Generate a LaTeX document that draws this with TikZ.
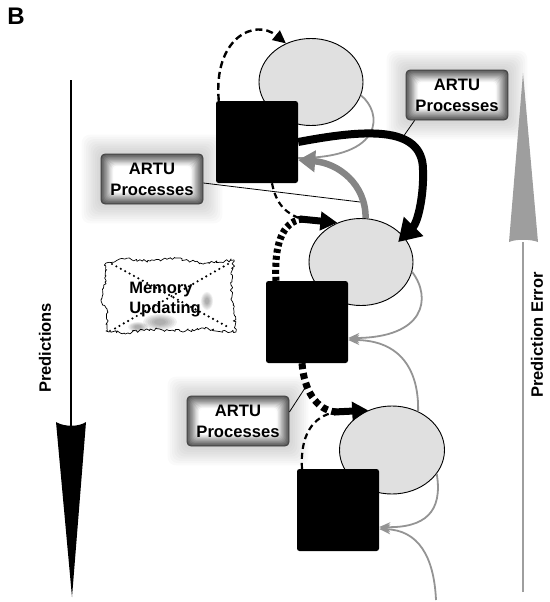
\documentclass[tikz,border=0pt]{standalone}
\usepackage{fontspec}
\setmainfont{Liberation Sans}
\usetikzlibrary{arrows.meta,shapes.geometric,decorations.pathmorphing,calc}
\definecolor{ellfill}{gray}{0.88}
\definecolor{thickgray}{gray}{0.52}
\definecolor{thingray}{gray}{0.58}
\definecolor{errgray}{gray}{0.62}
\newcommand\artuglow[2]{%
  \foreach \i in {1,...,9}{%
    \fill[black,opacity=0.02,rounded corners=8pt] (#1-50.5-\i*2.2,#2-24.5-\i*2.2) rectangle (#1+50.5+\i*2.2,#2+24.5+\i*2.2);}}
\newcommand\blob[4]{%
  \foreach \k in {0,...,5}{%
    \fill[black,opacity=0.06] (#1,#2) ellipse ({#3*(1-\k*0.13)} and {#4*(1-\k*0.13)});}}
\begin{document}
\begin{tikzpicture}[x=1pt,y=-1pt,
  ell/.style={ellipse,draw=black,line width=0.9pt,fill=ellfill,inner sep=0pt,minimum width=104pt,minimum height=87pt},
  sq/.style={rectangle,fill=black,rounded corners=2.5pt,minimum width=82pt,minimum height=82pt,inner sep=0pt},
  artu/.style={rectangle,rounded corners=4pt,draw=black!75,line width=0.8pt,minimum width=102pt,minimum height=50pt,align=center,font=\fontsize{16.6}{21}\selectfont\bfseries,inner sep=0pt,
    path picture={
      \foreach \i in {0,...,11}{
        \pgfmathtruncatemacro\cc{max(0,66-\i*6.5)}
        \fill[black!\cc,rounded corners=4pt] ([shift={(\i*1.15pt,-\i*1.15pt)}]path picture bounding box.north west) rectangle ([shift={(-\i*1.15pt,\i*1.15pt)}]path picture bounding box.south east);
      }
    }},
  lab/.style={font=\fontsize{16.5}{20}\selectfont\bfseries,inner sep=0pt},
  fb/.style={draw=thingray,line width=1.8pt,-{Stealth[length=11pt,width=10pt]}},
  fbplain/.style={draw=thingray,line width=1.8pt},
  thindash/.style={draw=black,line width=2.2pt,dash pattern=on 6pt off 4pt},
  thickdash/.style={draw=black,line width=7pt,dash pattern=on 4pt off 3pt},
  conn/.style={draw=black,line width=0.8pt}
]
\useasboundingbox (0,0) rectangle (549,602);
\pgfmathsetseed{11}

% label B
\node[font=\fontsize{24}{24}\selectfont\bfseries,inner sep=0pt] (lblB) at (16,16) {B};

% glows behind ARTU boxes
\artuglow{457}{95}
\artuglow{152}{179}
\artuglow{238}{421}

% Predictions arrow
\coordinate (ptop) at (71,80);
\coordinate (pmid) at (71,428);
\coordinate (ptip) at (72,597);
\draw[line width=2.6pt] (ptop) -- (pmid);
\fill[black] (56,422) .. controls (64,427) and (79,427) .. (86,422) -- (ptip) -- cycle;
\node[lab,rotate=90] (pred) at (45,348) {Predictions};

% Prediction error arrow
\coordinate (ebot) at (523,592);
\coordinate (emid) at (523,242);
\coordinate (etip) at (523,73);
\draw[line width=2.6pt,draw=errgray] (ebot) -- (emid);
\fill[errgray] (509,242) .. controls (516,239) and (530,239) .. (538,242) -- (etip) -- cycle;
\node[lab,rotate=90] (perr) at (537,335) {Prediction Error};

% memory updating
\draw[decorate,decoration={random steps,segment length=2pt,amplitude=1.6pt},fill=white,line width=0.7pt,line join=round]
  (106,263) -- (125,259) -- (150,261) -- (175,258) -- (200,263) -- (234,260) -- (231,285) -- (233,305) -- (236,332) -- (205,329) -- (180,331) -- (150,329) -- (128,333) -- (106,331) -- (108,312) -- (101,300) -- (105,282) -- cycle;
\blob{160}{322}{17}{8}
\blob{138}{327}{10}{5}
\blob{207}{301}{6}{9}
\node[lab,align=left,font=\fontsize{16.5}{20}\selectfont\bfseries] (mem) at (165,300) {Memory\\Updating};
\draw[line width=2.4pt,line cap=round,dash pattern=on 0pt off 5pt] (112,264) -- (228,327);
\draw[line width=2.4pt,line cap=round,dash pattern=on 0pt off 5pt] (228,264) -- (114,329);

% ellipses and squares
\node[ell] (e1) at (311,82) {};
\node[sq] (s1) at (257,142) {};
\node[ell] (e2) at (361,262) {};
\node[sq] (s2) at (307,322) {};
\node[ell,minimum width=105pt,minimum height=88pt] (e3) at (392,450) {};
\node[sq] (s3) at (338,510) {};

% thin gray feedback curves
\draw[fbplain] (e1.-15) .. controls (382,112) and (386,158) .. ([yshift=-16pt]s1.east);
\draw[fb] (e2.-11) .. controls (432,298) and (425,338) .. ([yshift=-16pt]s2.east);
\draw[fb] (e3.56) .. controls (419,372) and (402,340) .. ([yshift=-18pt]s2.east);
\draw[fb] (e3.-28) .. controls (443,512) and (425,528) .. ([yshift=-17pt]s3.east);
\coordinate (fin) at (436,600);
\draw[fb] (fin) .. controls (434,556) and (418,530) .. ([yshift=-19pt]s3.east);

% top dashed prediction arrow
\draw[draw=black,line width=2.4pt,dash pattern=on 7pt off 4pt,-{Triangle[length=13pt,width=12pt]}]
  ([xshift=3pt]s1.north west) .. controls (213,38) and (255,18) .. (e1.123);

% level 2 dashed arrows
\coordinate (m2) at (302,219);
\draw[thindash] ([xshift=15pt]s1.south) .. controls (276,204) and (286,214) .. (m2);
\draw[thickdash] ([xshift=-31pt]s2.north) .. controls (274,245) and (282,222) .. (m2);
\draw[line width=7pt,-{Triangle[length=17pt,width=18pt]}] ([xshift=-2pt]m2) -- (e2.121);

% level 3 dashed arrows
\coordinate (m3) at (336,412);
\draw[line width=7pt,dash pattern=on 6pt off 4pt] ([xshift=-5pt]s2.south) .. controls (304,390) and (316,410) .. (m3);
\draw[thindash] ([xshift=-36pt]s3.north) .. controls (300,436) and (312,416) .. (m3);
\draw[line width=7pt,-{Triangle[length=16pt,width=18pt]}] ([xshift=-2pt]m3) -- (e3.121);

% thick black forward arrow
\coordinate (bk) at (423,170);
\draw[line width=8pt,-{Triangle[length=22pt,width=26pt]}] (s1.east) .. controls (362,130) and (423,124) .. (bk) .. controls (424,195) and (418,222) .. ([shift={(-6pt,-5pt)}]e2.30);

% thick gray arrow
\draw[draw=thickgray,line width=6.5pt,-{Triangle[length=17pt,width=21pt]}] (e2.84) .. controls (366,184) and (338,163) .. ([yshift=-18pt]s1.east);

% ARTU boxes and their connectors
\coordinate (c1) at (403,137);
\coordinate (c2) at (360,202);
\coordinate (c3) at (305,388);
\node[artu] (a1) at (457,95) {ARTU\\Processes};
\node[artu] (a2) at (152,179) {ARTU\\Processes};
\node[artu] (a3) at (238,421) {ARTU\\Processes};
\draw[conn] ([xshift=9pt]a1.south west) -- (c1);
\draw[conn] ([yshift=-4pt]a2.east) -- (c2);
\draw[conn] ([yshift=9pt]a3.east) -- (c3);
\end{tikzpicture}
\end{document}
